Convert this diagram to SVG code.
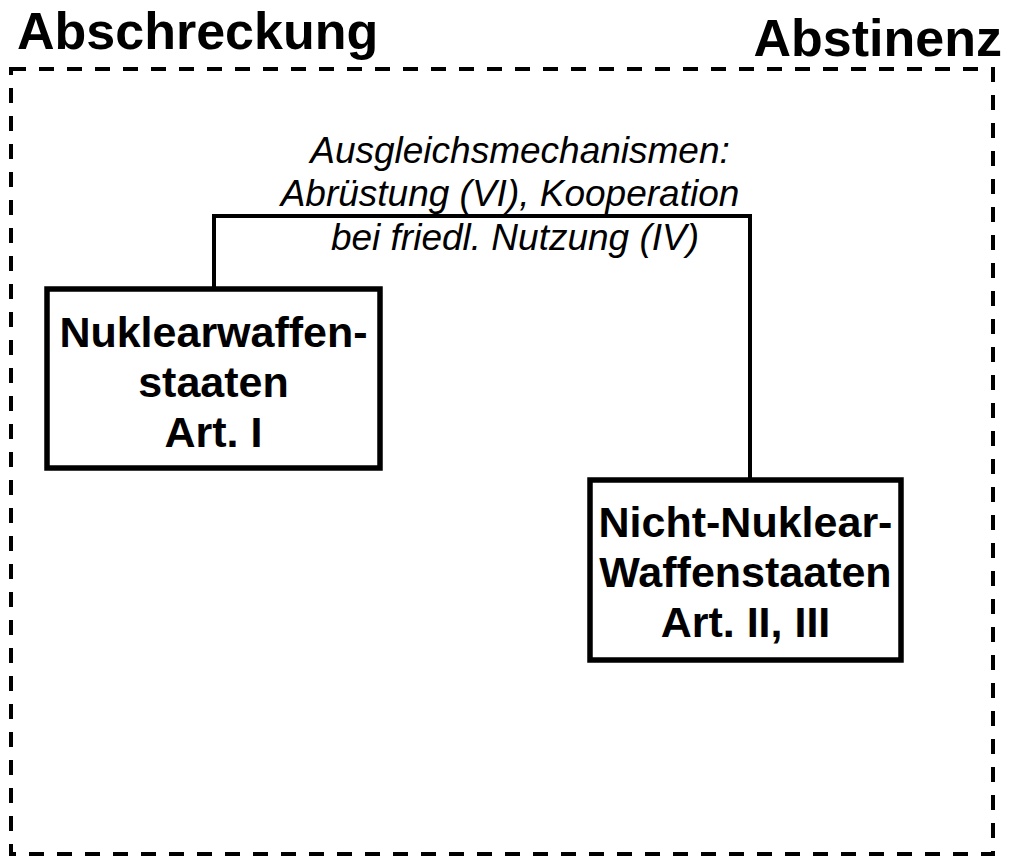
<svg xmlns="http://www.w3.org/2000/svg" width="1014" height="860" viewBox="0 0 1014 860">
<style>
.title{font-family:"Liberation Sans",Arial,sans-serif;font-weight:bold;font-size:52px;fill:#000}
.box{fill:#fff;stroke:#000;stroke-width:5.5}
.bt{font-family:"Liberation Sans",Arial,sans-serif;font-weight:bold;font-size:43px;fill:#000;text-anchor:middle}
.lbl{font-family:"Liberation Sans",Arial,sans-serif;font-style:italic;font-size:37px;fill:#000;text-anchor:middle}
.conn{fill:none;stroke:#000;stroke-width:4}
</style>
<rect width="1014" height="860" fill="#fff"/>
<g id="frame">
<rect x="11" y="69" width="982" height="785" fill="none" stroke="#000" stroke-width="4" stroke-dasharray="15 13"/>
<text class="title" x="17" y="49">Abschreckung</text>
<text class="title" x="1002" y="56" text-anchor="end">Abstinenz</text>
</g>
<g id="connectors">
<polyline class="conn" points="214,289 214,216 750,216 750,478"/>
<text class="lbl" x="520" y="163">Ausgleichsmechanismen:</text>
<text class="lbl" x="510" y="206">Abrüstung (VI), Kooperation</text>
<text class="lbl" x="515" y="250">bei friedl. Nutzung (IV)</text>
</g>
<g id="node-nws">
<rect class="box" x="47" y="289" width="333" height="179"/>
<text class="bt" x="213.5" y="347">Nuklearwaffen-</text>
<text class="bt" x="213.5" y="397">staaten</text>
<text class="bt" x="213.5" y="447">Art. I</text>
</g>
<g id="node-nnws">
<rect class="box" x="590" y="480" width="311" height="180"/>
<text class="bt" x="745.5" y="537">Nicht-Nuklear-</text>
<text class="bt" x="745.5" y="587">Waffenstaaten</text>
<text class="bt" x="745.5" y="637">Art. II, III</text>
</g>
</svg>
